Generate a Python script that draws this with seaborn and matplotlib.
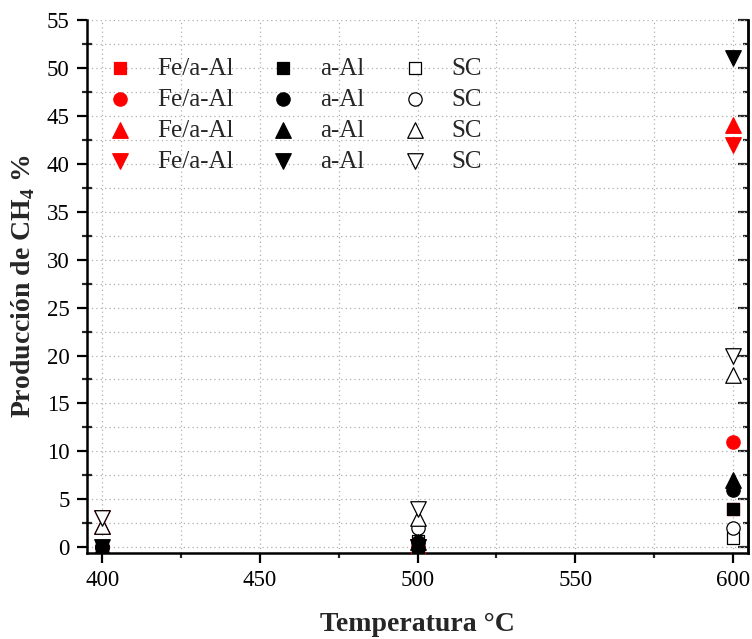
import matplotlib
matplotlib.use("Agg")
import matplotlib.pyplot as plt
import seaborn as sns
import pandas as pd
from matplotlib.ticker import MultipleLocator

# ---- data ----
temps = [400, 500, 600]
fe_square = [0, 0, 4]
fe_circle = [0, 0, 11]
fe_tri_up = [2.2, 0, 44]
fe_tri_down = [3, 0, 42]
aal_square = [0, 0, 4]
aal_circle = [0, 0.5, 6]
aal_tri_up = [0, 0.5, 7]
aal_tri_down = [0, 0, 51]
sc_square = [0, 0.6, 1]
sc_circle = [0, 2, 2]
sc_tri_up = [2.2, 3, 18]
sc_tri_down = [3, 4, 20]

catalysts = ["Fe/a-Al", "a-Al", "SC"]
series_names = ["square", "circle", "tri_up", "tri_down"]
values = {
    "Fe/a-Al": [fe_square, fe_circle, fe_tri_up, fe_tri_down],
    "a-Al": [aal_square, aal_circle, aal_tri_up, aal_tri_down],
    "SC": [sc_square, sc_circle, sc_tri_up, sc_tri_down],
}

rows = []
for cat in catalysts:
    for sname, vals in zip(series_names, values[cat]):
        for t, v in zip(temps, vals):
            rows.append({"temp": t, "value": v, "catalyst": cat, "series": sname})
df = pd.DataFrame(rows)

# ---- style ----
sns.set_style("ticks")
plt.rcParams["font.family"] = ["Liberation Serif", "DejaVu Serif"]
plt.rcParams["mathtext.fontset"] = "custom"
plt.rcParams["mathtext.rm"] = "Liberation Serif"
plt.rcParams["mathtext.bf"] = "Liberation Serif:bold"

marker_map = {"square": "s", "circle": "o", "tri_up": "^", "tri_down": "v"}
size_map = {"square": 81, "circle": 92, "tri_up": 125, "tri_down": 125}
face = {"Fe/a-Al": "#ff0000", "a-Al": "#000000", "SC": "#ffffff"}
edge = {"Fe/a-Al": "#ff0000", "a-Al": "#000000", "SC": "#000000"}
zorders = {"Fe/a-Al": 3, "SC": 4, "a-Al": 5}

fig = plt.figure(figsize=(7.52, 6.39), dpi=100)
ax = fig.add_axes([87 / 752, 1 - 553 / 639, (748 - 87) / 752, (553 - 20) / 639])

handles = {}
for cat in catalysts:
    for sname in series_names:
        sub = df[(df.catalyst == cat) & (df.series == sname)]
        sns.scatterplot(data=sub, x="temp", y="value", ax=ax,
                        marker=marker_map[sname], s=size_map[sname],
                        color=face[cat], edgecolor=edge[cat],
                        linewidth=0.9, label=cat, zorder=zorders[cat], legend=False)
        handles[(cat, sname)] = ax.collections[-1]

ax.set_xlim(395.2, 604.8)
ax.set_ylim(-0.6, 55)
ax.xaxis.set_major_locator(MultipleLocator(50))
ax.xaxis.set_minor_locator(MultipleLocator(25))
ax.yaxis.set_major_locator(MultipleLocator(5))
ax.yaxis.set_minor_locator(MultipleLocator(2.5))

ax.grid(True, which="both", color="#b0b0b0", linestyle=(0, (1, 2.5)), linewidth=0.9)
ax.set_axisbelow(True)

for s in ["left", "bottom", "right"]:
    ax.spines[s].set_linewidth(1.8)
    ax.spines[s].set_color("black")
ax.spines["top"].set_visible(False)

ax.tick_params(axis="both", which="major", direction="out", length=7.5, width=1.6,
               labelsize=16.5, colors="black", pad=5)
ax.tick_params(axis="y", which="minor", direction="inout", length=7.5, width=1.6)
ax.tick_params(axis="x", which="minor", direction="out", length=3.5, width=1.6)

# right side: inward ticks, no labels
sec = ax.secondary_yaxis("right")
sec.yaxis.set_major_locator(MultipleLocator(5))
sec.yaxis.set_minor_locator(MultipleLocator(2.5))
sec.tick_params(which="major", direction="in", length=7.5, width=1.6, labelright=False)
sec.tick_params(which="minor", direction="in", length=3.8, width=1.6)
sec.spines["right"].set_linewidth(1.8)

ax.set_xlabel("Temperatura °C", fontsize=20, fontweight="bold", labelpad=15)
ax.set_ylabel(r"Producción de CH$_\mathbf{4}$ %", fontsize=20, fontweight="bold", labelpad=7)

order = []
labels = []
for cat in catalysts:
    for sname in series_names:
        order.append(handles[(cat, sname)])
        labels.append(cat)
leg = ax.legend(order, labels, ncol=3, loc="upper left", bbox_to_anchor=(0.031, 0.930),
                frameon=False, fontsize=18, handletextpad=0.98, columnspacing=1.5,
                labelspacing=0.34, scatterpoints=1, handlelength=1.0,
                borderaxespad=0, borderpad=0)

fig.savefig("out.png", dpi=100)
